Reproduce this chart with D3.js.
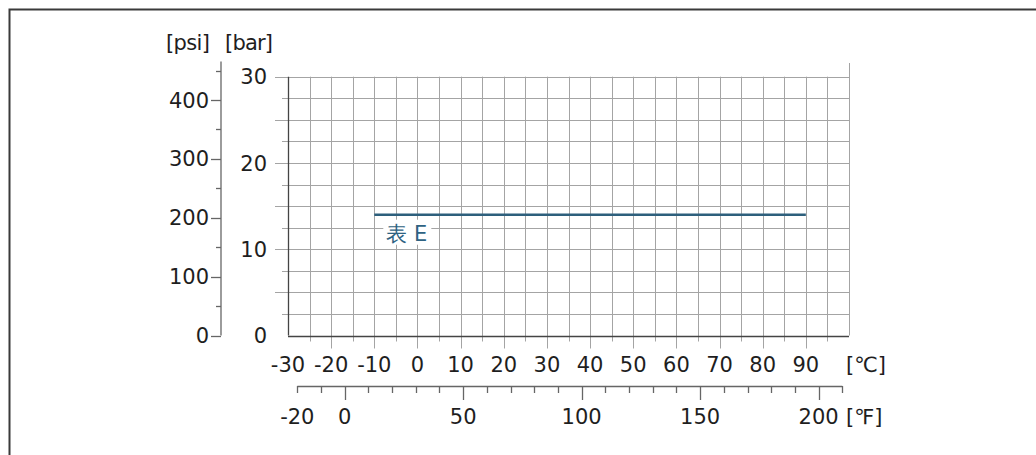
<!DOCTYPE html>
<html><head><meta charset="utf-8">
<script src="https://cdn.jsdelivr.net/npm/d3@7"></script>
<style>
body{margin:0;background:#fff;}
text{font-family:"DejaVu Sans",sans-serif;font-size:21px;fill:#1e1e1e;}
</style></head>
<body><svg id="c" width="1036" height="455"></svg>
<script>
// ---- data ----
const celsiusTicks = [-30,-20,-10,0,10,20,30,40,50,60,70,80,90];
const fahrenheitTicks = [-20,0,50,100,150,200];
const barTicks = [0,10,20,30];
const psiTicks = [0,100,200,300,400];
const seriesName = "表 E";
const seriesTemp = [-10, 90];      // °C
const seriesPressure = [14, 14];   // bar

const svg = d3.select("#c");
const x = d3.scaleLinear().domain([-30,100]).range([288,849]);
const y = d3.scaleLinear().domain([0,30]).range([335.5,76.7]);
const yPsi = d3.scaleLinear().domain([0,400]).range([335.5,100]);
const xF = d3.scaleLinear().domain([-20,210]).range([297.3,842.3]);

// frame
svg.append("path").attr("d","M9.5,455 V9.5 H1036").attr("fill","none").attr("stroke","#3a3a3a").attr("stroke-width",2);

const grid = svg.append("g").attr("stroke","#a4a4a4").attr("stroke-width",1).attr("fill","none");
// horizontal grid lines
d3.range(2.5,30.01,2.5).forEach(v=>{
  const yy = Math.round(y(v))+0.5;
  const ext = (v%5===0)?13:6;
  grid.append("line").attr("x1",x(-30)-ext).attr("x2",x(100)).attr("y1",yy).attr("y2",yy);
});
// vertical grid lines
d3.range(-25,100.01,5).forEach(v=>{
  const xx = Math.round(x(v))+0.5;
  let y2 = y(0);
  if (v<100) y2 += (v%10===0)?13:6;
  const y1 = v===100 ? 63 : y(30);
  grid.append("line").attr("x1",xx).attr("x2",xx).attr("y1",y1).attr("y2",y2);
});
// main axes
const ax = svg.append("g").attr("stroke","#444").attr("stroke-width",1.3).attr("fill","none");
ax.append("line").attr("x1",Math.round(x(-30))+0.5).attr("x2",Math.round(x(-30))+0.5).attr("y1",y(30)).attr("y2",y(0));
ax.append("line").attr("x1",x(-30)).attr("x2",x(100)).attr("y1",Math.round(y(0))+0.5).attr("y2",Math.round(y(0))+0.5);

// bar labels
svg.append("g").selectAll("text").data(barTicks).join("text")
  .attr("x",267).attr("y",d=>y(d)).attr("dy","0.36em").attr("text-anchor","end").text(d=>d);

// psi axis
const psiG = svg.append("g").attr("stroke","#666").attr("stroke-width",1.3);
psiG.append("line").attr("x1",221).attr("x2",221).attr("y1",61.5).attr("y2",yPsi(0));
d3.range(0,451,50).forEach(v=>{
  const yy = Math.round(yPsi(v))+0.5;
  const len = (v%100===0)?10:5;
  psiG.append("line").attr("x1",221-len).attr("x2",221).attr("y1",yy).attr("y2",yy);
});
svg.append("g").selectAll("text").data(psiTicks).join("text")
  .attr("x",209).attr("y",d=>yPsi(d)).attr("dy","0.36em").attr("text-anchor","end").text(d=>d);

// unit titles
svg.append("text").attr("x",166).attr("y",50).attr("textLength",44).text("[psi]");
svg.append("text").attr("x",225).attr("y",50).attr("textLength",48).text("[bar]");

// celsius labels
svg.append("g").selectAll("text").data(celsiusTicks).join("text")
  .attr("x",d=>x(d)).attr("y",372).attr("text-anchor","middle").text(d=>d);
svg.append("text").attr("x",846).attr("y",372).text("[℃]");

// fahrenheit axis
const fG = svg.append("g").attr("stroke","#666").attr("stroke-width",1.3);
fG.append("line").attr("x1",xF(-20)).attr("x2",xF(210)).attr("y1",386.5).attr("y2",386.5);
d3.range(-20,211,10).forEach(v=>{
  const xx = Math.round(xF(v))+0.5;
  const len = (v%50===0)?14:7;
  fG.append("line").attr("x1",xx).attr("x2",xx).attr("y1",386).attr("y2",386+len);
});
svg.append("g").selectAll("text").data(fahrenheitTicks).join("text")
  .attr("x",d=>xF(d)).attr("y",424).attr("text-anchor","middle").text(d=>d);
svg.append("text").attr("x",846).attr("y",424).text("[℉]");

// series line
const pts = seriesTemp.map((t,i)=>[t,seriesPressure[i]]);
svg.append("path").datum(pts)
  .attr("d",d3.line().x(d=>x(d[0])).y(d=>y(d[1])))
  .attr("stroke","#2d5f7c").attr("stroke-width",2.6).attr("fill","none");
// label with white background
svg.append("rect").attr("x",x(-10)+9).attr("y",y(14)+5).attr("width",48).attr("height",25).attr("fill","#fff");
svg.append("text").attr("x",x(-10)+12).attr("y",y(14)+26).style("fill","#2e6282").text(seriesName);
</script></body></html>
